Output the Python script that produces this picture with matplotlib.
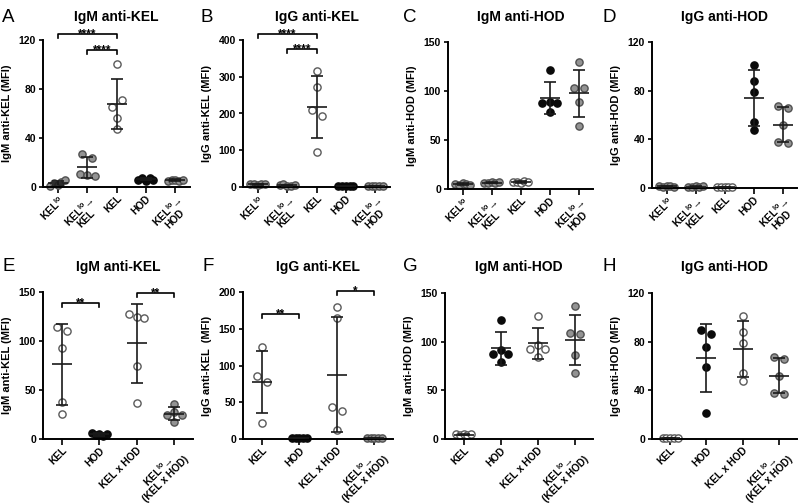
import numpy as np
import matplotlib
matplotlib.use('Agg')
import matplotlib.pyplot as plt

plt.rcParams['font.family'] = ['Liberation Sans', 'DejaVu Sans']
plt.rcParams['font.weight'] = 'bold'
plt.rcParams['mathtext.fontset'] = 'custom'
plt.rcParams['mathtext.rm'] = 'Liberation Sans'
plt.rcParams['mathtext.bf'] = 'Liberation Sans:bold'
plt.rcParams['mathtext.default'] = 'bf'

# category labels
top_cats = ['KEL$^{lo}$', 'KEL$^{lo}$→\nKEL', 'KEL', 'HOD', 'KEL$^{lo}$→\nHOD']
bot_cats = ['KEL', 'HOD', 'KEL x HOD', 'KEL$^{lo}$→\n(KEL x HOD)']
top_kinds = ['gray', 'gray', 'open', 'black', 'gray']
bot_kinds = ['open', 'black', 'open', 'gray']

# MFI values (one list per group)
A_vals = [[1, 3, 2, 4, 6], [27, 24, 11, 10, 9], [100, 65, 71, 56, 47],
          [6, 7, 5, 7, 6], [5, 6, 6, 5, 6]]
B_vals = [[7, 8, 6, 8, 9], [5, 7, 4, 3, 6], [316, 273, 209, 194, 95],
          [2, 3, 2, 3, 2], [3, 2, 3, 4, 2]]
C_vals = [[5, 4, 6, 5, 4], [6, 6, 7, 6, 7], [7, 7, 6, 8, 7],
          [121, 88, 89, 88, 79], [130, 103, 103, 89, 64]]
D_vals = [[1.5, 1, 2, 1.5, 1], [1, 0.5, 1.5, 1, 2], [0.5, 0.5, 1, 0.5, 1],
          [101.5, 88, 78.5, 54.5, 47.5], [67, 66, 52, 38, 37]]
E_vals = [[114, 110, 93, 38, 26], [6, 4, 5, 3, 5],
          [128, 125, 123, 75, 37], [36, 25, 28, 24, 17]]
F_vals = [[125, 86, 78, 22], [1, 2, 1, 1, 2],
          [179, 165, 44, 38, 12], [1.5, 1, 1, 1.5, 1]]
G_vals = [[5, 4, 5, 4, 5], [122, 87, 91, 87, 79],
          [126, 92, 97, 92, 84], [137, 109, 108, 86, 68]]
H_vals = [[0.5, 1, 0.5, 1, 0.5], [89.5, 86.5, 76, 59.5, 21],
          [101.5, 88, 78.5, 47.5, 54.5], [67, 66, 52, 38, 37]]

# significance brackets: (group i, group j, height, label)
A_sig = [(0, 2, 125, '****'), (1, 2, 112, '****')]
B_sig = [(0, 2, 415, '****'), (1, 2, 375, '****')]
E_sig = [(0, 1, 139, '**'), (2, 3, 149, '**')]
F_sig = [(0, 1, 170, '**'), (2, 3, 201, '*')]

panels = [
    ('A', 'IgM anti-KEL', 'IgM anti-KEL (MFI)', [0, 40, 80, 120], top_cats, top_kinds, A_vals, A_sig, (43, 40, 190, 187), (2, 21.5)),
    ('B', 'IgG anti-KEL', 'IgG anti-KEL (MFI)', [0, 100, 200, 300, 400], top_cats, top_kinds, B_vals, B_sig, (243, 40, 390, 187), (201, 21.5)),
    ('C', 'IgM anti-HOD', 'IgM anti-HOD (MFI)', [0, 50, 100, 150], top_cats, top_kinds, C_vals, [], (448, 42, 593, 189), (403, 21.5)),
    ('D', 'IgG anti-HOD', 'IgG anti-HOD (MFI)', [0, 40, 80, 120], top_cats, top_kinds, D_vals, [], (652, 42, 797, 188), (603, 21.5)),
    ('E', 'IgM anti-KEL', 'IgM anti-KEL (MFI)', [0, 50, 100, 150], bot_cats, bot_kinds, E_vals, E_sig, (43, 292, 193, 439), (3, 271)),
    ('F', 'IgG anti-KEL', 'IgG anti-KEL  (MFI)', [0, 50, 100, 150, 200], bot_cats, bot_kinds, F_vals, F_sig, (243, 292, 393, 439), (202, 271)),
    ('G', 'IgM anti-HOD', 'IgM anti-HOD (MFI)', [0, 50, 100, 150], bot_cats, bot_kinds, G_vals, [], (445, 293, 593, 439), (403, 271)),
    ('H', 'IgG anti-HOD', 'IgG anti-HOD (MFI)', [0, 40, 80, 120], bot_cats, bot_kinds, H_vals, [], (652, 293, 797, 439), (603, 271)),
]

styles = {
    'gray': dict(mfc='#939393', mec='#505050'),
    'open': dict(mfc='white', mec='#5a5a5a'),
    'black': dict(mfc='#0a0a0a', mec='#0a0a0a'),
}

W, H = 800, 503
PT = 72 / 100.0  # points per pixel


def swarm(vals, ppy, ppx, step=10, row_gap=7.5, max_half=7.5):
    # prism-like: group close values into rows, centre each row
    order = sorted(range(len(vals)), key=lambda i: -vals[i])
    rows = []
    for i in order:
        if rows and (vals[rows[-1][0]] - vals[i]) * ppy < row_gap:
            rows[-1].append(i)
        else:
            rows.append([i])
    offs = [0.0] * len(vals)
    for row in rows:
        row = sorted(row)
        n = len(row)
        s = step
        if n > 1 and (n - 1) / 2 * step > max_half:
            s = 2 * max_half / (n - 1)
        for k, i in enumerate(row):
            offs[i] = (k - (n - 1) / 2) * s / ppx
    return offs


fig = plt.figure(figsize=(8, 5.03), dpi=100)

for letter, title, ylab, yt, cats, kinds, groups, sig, rect, lpos in panels:
    l, t, r, b = rect
    ax = fig.add_axes([l / W, 1 - b / H, (r - l) / W, (b - t) / H])
    n = len(cats)
    ymax = yt[-1]
    ax.set_xlim(-0.5, n - 0.5)
    ax.set_ylim(0, ymax)
    ppy = (b - t) / ymax
    ppx = (r - l) / n

    for gi, vals in enumerate(groups):
        offs = swarm(vals, ppy, ppx)
        xs = [gi + o for o in offs]
        ax.plot(xs, vals, 'o', ms=5.2, mew=1.0, ls='none', clip_on=False,
                zorder=2, **styles[kinds[gi]])
        m = np.mean(vals)
        s = np.std(vals, ddof=1)
        ax.errorbar([gi], [m], yerr=[s], fmt='none', ecolor='#1a1a1a',
                    elinewidth=1.2, capsize=4.5, capthick=1.2, zorder=3,
                    clip_on=False)
        ax.plot([gi], [m], marker='_', ms=14, mew=1.2, color='#1a1a1a',
                zorder=3, clip_on=False)

    tip = 4 / ppy
    for i, j, yb, txt in sig:
        ax.plot([i, i, j, j], [yb - tip, yb, yb, yb - tip], color='black',
                lw=1.2, clip_on=False)
        ax.text((i + j) / 2, yb - 3 / ppy, txt, ha='center', va='baseline',
                fontsize=8.5, fontweight='bold')

    for sp in ['top', 'right']:
        ax.spines[sp].set_visible(False)
    for sp in ['left', 'bottom']:
        ax.spines[sp].set_linewidth(1.4)
    ax.set_yticks(yt)
    ax.set_xticks(range(n))
    ax.set_xticklabels(cats, rotation=45, ha='right', va='top',
                       rotation_mode='anchor', multialignment='center',
                       linespacing=0.9)
    ax.tick_params(axis='y', length=3, width=1.2, labelsize=7.5, pad=2)
    ax.tick_params(axis='x', length=4, width=1.2, labelsize=7.3, pad=0.5)
    ax.set_ylabel(ylab, fontsize=8, fontweight='bold')
    ax.yaxis.set_label_coords(-31 / (r - l), 0.5)
    ax.set_title(title, fontsize=10, fontweight='bold', y=1.0,
                 pad=(t - lpos[1]) * PT)
    fig.text(lpos[0] / W, 1 - lpos[1] / H, letter, fontsize=13.5,
             fontweight='normal', va='baseline', ha='left')

fig.savefig('out.png', dpi=100, facecolor='white')
